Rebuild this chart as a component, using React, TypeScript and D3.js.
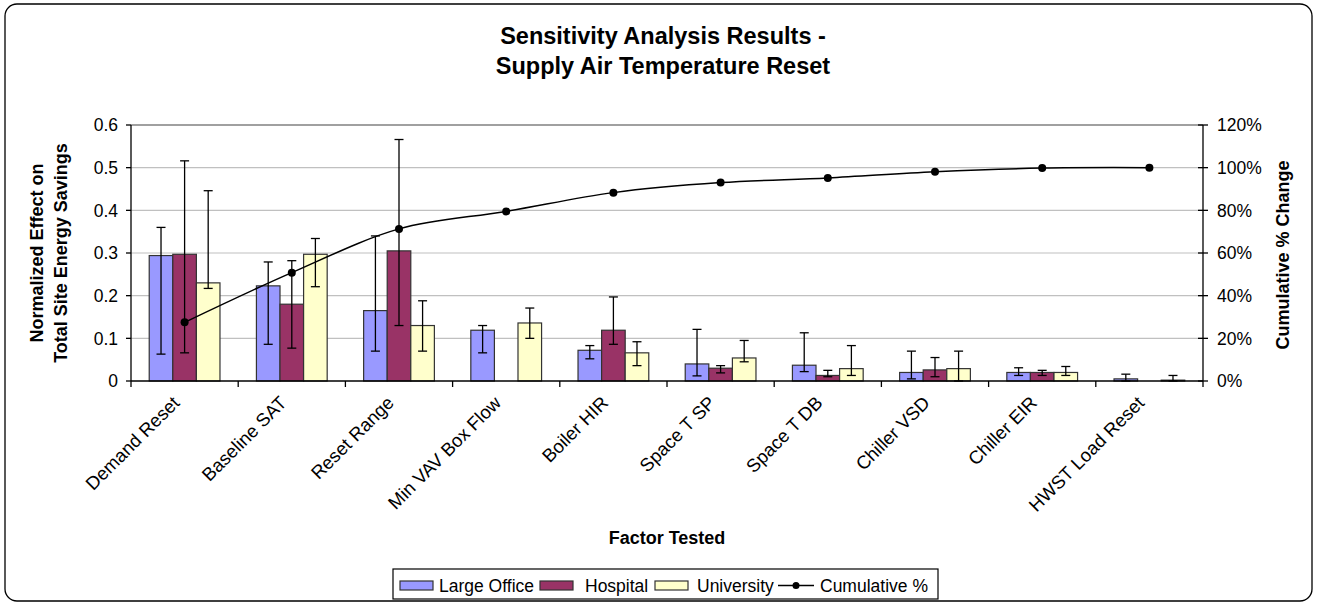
import React from "react";
import * as d3 from "d3";

const categories = [
  "Demand Reset",
  "Baseline SAT",
  "Reset Range",
  "Min VAV Box Flow",
  "Boiler HIR",
  "Space T SP",
  "Space T DB",
  "Chiller VSD",
  "Chiller EIR",
  "HWST Load Reset",
];
const seriesNames = ["Large Office", "Hospital", "University"];
const seriesColors = ["#9999FF", "#993366", "#FFFFCC"];

const largeOffice = [0.294, 0.223, 0.165, 0.119, 0.072, 0.04, 0.037, 0.02, 0.02, 0.005];
const largeOfficeHi = [0.36, 0.279, 0.34, 0.13, 0.083, 0.121, 0.113, 0.07, 0.031, 0.016];
const largeOfficeLo = [0.063, 0.086, 0.07, 0.066, 0.052, 0.012, 0.022, 0.005, 0.013, 0.0];

const hospital = [0.297, 0.18, 0.305, 0, 0.119, 0.03, 0.013, 0.026, 0.02, 0];
const hospitalHi = [0.516, 0.282, 0.566, null, 0.197, 0.036, 0.025, 0.055, 0.025, null];
const hospitalLo = [0.066, 0.077, 0.13, null, 0.086, 0.019, 0.01, 0.01, 0.013, null];

const university = [0.23, 0.297, 0.13, 0.136, 0.066, 0.054, 0.029, 0.029, 0.02, 0.002];
const universityHi = [0.446, 0.334, 0.188, 0.171, 0.092, 0.095, 0.083, 0.07, 0.034, 0.013];
const universityLo = [0.217, 0.221, 0.07, 0.1, 0.036, 0.045, 0.013, 0.0, 0.013, 0.0];

const cumulative = [27.5, 50.8, 71.3, 79.5, 88.3, 93.0, 95.2, 98.1, 99.8, 100];

const leftTicks = [0, 0.1, 0.2, 0.3, 0.4, 0.5, 0.6];
const leftTickLabels = ["0", "0.1", "0.2", "0.3", "0.4", "0.5", "0.6"];
const rightTicks = [0, 20, 40, 60, 80, 100, 120];
const rightTickLabels = ["0%", "20%", "40%", "60%", "80%", "100%", "120%"];

const W = 1317;
const H = 603;
const FONT = "'Liberation Sans', Arial, sans-serif";

export default function App() {
  const left = 131;
  const right = 1203;
  const top = 125;
  const bottom = 381;

  const x0 = d3.scaleBand<string>().domain(categories).range([left, right]).padding(0);
  const groupW = x0.bandwidth() * 0.66;
  const x1 = d3.scaleBand<string>().domain(seriesNames).range([0, groupW]).padding(0);
  const y = d3.scaleLinear().domain([0, 0.6]).range([bottom, top]);
  const yR = d3.scaleLinear().domain([0, 120]).range([bottom, top]);

  const values = [largeOffice, hospital, university];
  const his = [largeOfficeHi, hospitalHi, universityHi];
  const los = [largeOfficeLo, hospitalLo, universityLo];

  const cx = (c: string) => (x0(c) as number) + x0.bandwidth() / 2;

  const line = d3
    .line<number>()
    .x((_, i) => cx(categories[i]))
    .y((d) => yR(d))
    .curve(d3.curveCardinal.tension(0));

  return (
    <svg
      width={W}
      height={H}
      style={{ position: "absolute", left: 0, top: 0, display: "block", background: "#fff" }}
      fontFamily={FONT}
    >
      <rect x={5} y={4} width={1307} height={597} rx={12} ry={12} fill="#fff" stroke="#000" strokeWidth={1.3} />

      <text x={663} y={44} textAnchor="middle" fontSize={23.5} fontWeight="bold">
        Sensitivity Analysis Results -
      </text>
      <text x={663} y={74} textAnchor="middle" fontSize={23.5} fontWeight="bold">
        Supply Air Temperature Reset
      </text>

      {/* gridlines */}
      {leftTicks.slice(1, -1).map((t) => (
        <line key={"g" + t} x1={left} x2={right} y1={y(t)} y2={y(t)} stroke="#c0c0c0" strokeWidth={1.2} />
      ))}
      <line x1={left} x2={right} y1={y(0.6)} y2={y(0.6)} stroke="#808080" strokeWidth={1.3} />

      {/* bars */}
      {values.map((vals, s) =>
        vals.map((v, i) =>
          v > 0 ? (
            <rect
              key={`b${s}-${i}`}
              x={(x0(categories[i]) as number) + (x0.bandwidth() - groupW) / 2 + (x1(seriesNames[s]) as number)}
              y={y(v)}
              width={x1.bandwidth()}
              height={y(0) - y(v)}
              fill={seriesColors[s]}
              stroke="#333"
              strokeWidth={1.2}
            />
          ) : null
        )
      )}

      {/* error bars */}
      {values.map((vals, s) =>
        vals.map((v, i) => {
          const hi = his[s][i];
          const lo = los[s][i];
          if (hi == null || lo == null) return null;
          const xc =
            (x0(categories[i]) as number) +
            (x0.bandwidth() - groupW) / 2 +
            (x1(seriesNames[s]) as number) +
            x1.bandwidth() / 2;
          return (
            <g key={`e${s}-${i}`} stroke="#000" strokeWidth={1.3}>
              <line x1={xc} x2={xc} y1={y(hi)} y2={y(lo)} />
              <line x1={xc - 4.5} x2={xc + 4.5} y1={y(hi)} y2={y(hi)} />
              <line x1={xc - 4.5} x2={xc + 4.5} y1={y(lo)} y2={y(lo)} />
            </g>
          );
        })
      )}

      {/* cumulative line */}
      <path d={line(cumulative) || ""} fill="none" stroke="#000" strokeWidth={1.5} />
      {cumulative.map((c, i) => (
        <circle key={"c" + i} cx={cx(categories[i])} cy={yR(c)} r={4} fill="#000" />
      ))}

      {/* left axis */}
      <line x1={left} x2={left} y1={top} y2={bottom} stroke="#000" strokeWidth={1.3} />
      {leftTicks.map((t, i) => (
        <g key={"lt" + t}>
          <line x1={left - 5} x2={left} y1={y(t)} y2={y(t)} stroke="#000" strokeWidth={1.3} />
          <text x={118} y={y(t)} dy="0.36em" textAnchor="end" fontSize={17.5}>
            {leftTickLabels[i]}
          </text>
        </g>
      ))}

      {/* right axis */}
      <line x1={right} x2={right} y1={top} y2={bottom} stroke="#000" strokeWidth={1.3} />
      {rightTicks.map((t, i) => (
        <g key={"rt" + t}>
          <line x1={right - 5} x2={right + 5} y1={yR(t)} y2={yR(t)} stroke="#000" strokeWidth={1.3} />
          <text x={1217} y={yR(t)} dy="0.36em" textAnchor="start" fontSize={17.5}>
            {rightTickLabels[i]}
          </text>
        </g>
      ))}

      {/* x axis */}
      <line x1={left} x2={right} y1={bottom} y2={bottom} stroke="#000" strokeWidth={1.3} />
      {categories.map((c, i) => (
        <line
          key={"xt" + i}
          x1={x0(c) as number}
          x2={x0(c) as number}
          y1={bottom}
          y2={bottom + 6}
          stroke="#000"
          strokeWidth={1.3}
        />
      ))}
      <line x1={right} x2={right} y1={bottom} y2={bottom + 6} stroke="#000" strokeWidth={1.3} />
      {categories.map((c) => (
        <text
          key={"xl" + c}
          transform={`translate(${cx(c) - 4},${404}) rotate(-45)`}
          textAnchor="end"
          fontSize={18.5}
        >
          {c}
        </text>
      ))}

      {/* axis titles */}
      <text transform="translate(43,253) rotate(-90)" textAnchor="middle" fontSize={18} fontWeight="bold">
        Normalized Effect on
      </text>
      <text transform="translate(67,253) rotate(-90)" textAnchor="middle" fontSize={18} fontWeight="bold">
        Total Site Energy Savings
      </text>
      <text transform="translate(1289,255) rotate(-90)" textAnchor="middle" fontSize={18} fontWeight="bold">
        Cumulative % Change
      </text>
      <text x={667} y={544} textAnchor="middle" fontSize={18} fontWeight="bold">
        Factor Tested
      </text>

      {/* legend */}
      <rect x={393} y={569} width={545} height={30} fill="#fff" stroke="#000" strokeWidth={1.2} />
      {[400, 540, 655].map((lx, s) => (
        <g key={"lg" + s}>
          <rect x={lx} y={581} width={33} height={9} fill={seriesColors[s]} stroke="#333" strokeWidth={1.2} />
        </g>
      ))}
      {[439, 585, 697].map((tx, s) => (
        <text key={"lgt" + s} x={tx} y={592} fontSize={17.5}>
          {seriesNames[s]}
        </text>
      ))}
      <line x1={778} x2={814} y1={585.5} y2={585.5} stroke="#000" strokeWidth={1.5} />
      <circle cx={796} cy={585.5} r={3.5} fill="#000" />
      <text x={820} y={592} fontSize={17.5}>
        Cumulative %
      </text>
    </svg>
  );
}
